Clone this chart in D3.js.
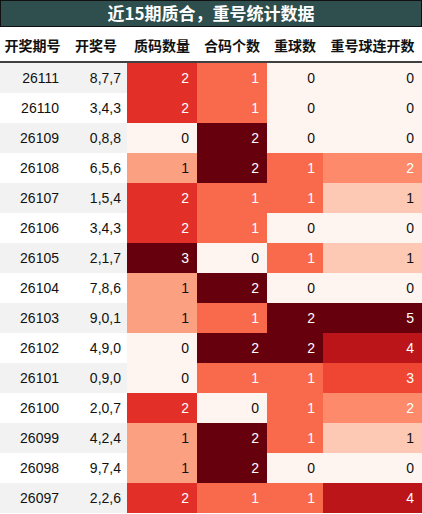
<!DOCTYPE html><html><head><meta charset="utf-8"><script src="https://cdn.jsdelivr.net/npm/d3@7"></script>
<style>body{margin:0;background:#fff}</style></head><body><svg id="c" width="422" height="514"></svg>
<script>
const title="近15期质合，重号统计数据";
const headers=["开奖期号","开奖号","质码数量","合码个数","重球数","重号球连开数"];
const periods=["26111","26110","26109","26108","26107","26106","26105","26104","26103","26102","26101","26100","26099","26098","26097"];
const draws=["8,7,7","3,4,3","0,8,8","6,5,6","1,5,4","3,4,3","2,1,7","7,8,6","9,0,1","4,9,0","0,9,0","2,0,7","4,2,4","9,7,4","2,2,6"];
const primeCount=[2,2,0,1,2,2,3,1,1,0,0,2,1,1,2];
const compCount=[1,1,2,2,1,1,0,2,1,2,1,0,2,2,1];
const repeatCount=[0,0,0,1,1,0,1,0,2,2,1,1,1,0,1];
const repeatRun=[0,0,0,2,1,0,1,0,5,4,3,2,1,0,4];
const colMax=[3,2,2,5];
const svg=d3.select("#c");
const edges=[0,65,127,197,267,323,422];
const top0=63,rowH=30;
svg.append("rect").attr("x",0.5).attr("y",0.5).attr("width",421).attr("height",26).attr("fill","#2f4f4f").attr("stroke","#111");
svg.append("text").attr("x",211).attr("y",19.5).attr("text-anchor","middle").attr("fill","#fff").attr("font-family","Noto Sans CJK SC").attr("font-weight","bold").attr("font-size",17).text(title);
headers.forEach((h,i)=>svg.append("text").attr("x",(edges[i]+edges[i+1])/2).attr("y",51).attr("text-anchor","middle").attr("font-family","Noto Sans CJK SC").attr("font-weight","bold").attr("font-size",14).attr("fill","#111").text(h));
svg.append("line").attr("x1",0).attr("x2",422).attr("y1",62).attr("y2",62).attr("stroke","#000").attr("stroke-width",1.5);
const y=d3.scaleBand().domain(periods).range([top0,top0+rowH*periods.length]);
const heat=[primeCount,compCount,repeatCount,repeatRun];
periods.forEach((p,r)=>{
  const yy=y(p);
  svg.append("rect").attr("x",0).attr("y",yy).attr("width",edges[2]).attr("height",rowH).attr("fill",r%2==0?"#f2f2f2":"#fff");
  [p,draws[r]].forEach((t,c)=>svg.append("text").attr("x",edges[c+1]-6).attr("y",yy+20).attr("text-anchor","end").attr("font-family","Liberation Sans").attr("font-size",14).attr("fill","#111").text(t));
  heat.forEach((arr,k)=>{
    const v=arr[r],n=v/colMax[k],c=k+2;
    svg.append("rect").attr("x",edges[c]).attr("y",yy).attr("width",edges[c+1]-edges[c]).attr("height",rowH).attr("fill",d3.interpolateReds(n));
    svg.append("text").attr("x",edges[c+1]-8).attr("y",yy+20).attr("text-anchor","end").attr("font-family","Liberation Sans").attr("font-size",14).attr("fill",n>0.35?"#fff":"#111").text(v);
  });
});
</script></body></html>
